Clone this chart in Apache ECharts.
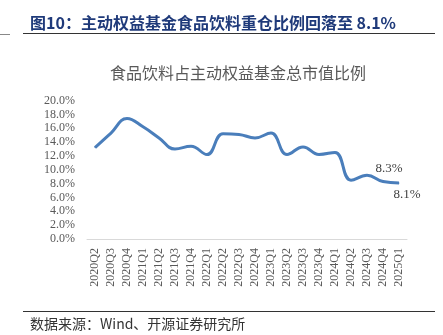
<!DOCTYPE html>
<html>
<head>
<meta charset="utf-8">
<script src="https://cdn.jsdelivr.net/npm/echarts@6/dist/echarts.min.js"></script>
<style>
  html, body { margin: 0; padding: 0; background: #fff; }
  #chart { width: 443px; height: 335px; }
</style>
</head>
<body>
<div id="chart"></div>
<script>
// Quarterly share of food & beverage in active equity funds' holdings (%)
const quarters = ['2020Q2','2020Q3','2020Q4','2021Q1','2021Q2','2021Q3','2021Q4',
  '2022Q1','2022Q2','2022Q3','2022Q4','2023Q1','2023Q2','2023Q3','2023Q4',
  '2024Q1','2024Q2','2024Q3','2024Q4','2025Q1'];
const shareValues = [13.2, 15.3, 17.4, 16.2, 14.6, 13.0, 13.4, 12.2, 15.2, 15.1,
  14.6, 15.3, 12.2, 13.3, 12.2, 12.5, 8.5, 9.2, 8.3, 8.1];
const yTicks = { min: 0, max: 20, step: 2 };

const serif = '"Liberation Serif", "Times New Roman", serif';
const cjk = '"Noto Sans CJK SC", sans-serif';

const lastIdx = shareValues.length - 1;
const seriesData = shareValues.map((v, i) => {
  if (i === lastIdx - 1) {
    return { value: v, label: { show: true, position: 'top', offset: [6, -1] } };
  }
  if (i === lastIdx) {
    return { value: v, label: { show: true, position: 'bottom', offset: [8, 0] } };
  }
  return v;
});

const chart = echarts.init(document.getElementById('chart'), null, { renderer: 'canvas' });
chart.setOption({
  backgroundColor: '#ffffff',
  animation: false,
  title: [
    {
      text: '图10：主动权益基金食品饮料重仓比例回落至 8.1%',
      left: 25, top: 10,
      textStyle: { fontFamily: cjk, fontSize: 16, fontWeight: 'bold', color: '#1f3a7a' }
    },
    {
      text: '食品饮料占主动权益基金总市值比例',
      left: 105, top: 60,
      textStyle: { fontFamily: cjk, fontSize: 16, fontWeight: 'normal', color: '#595959' }
    },
    {
      text: '数据来源：Wind、开源证券研究所',
      left: 25, top: 312,
      textStyle: { fontFamily: cjk, fontSize: 14, fontWeight: 'normal', color: '#333333' }
    }
  ],
  graphic: [
    { type: 'line', shape: { x1: 23, y1: 33.5, x2: 435, y2: 33.5 }, style: { stroke: '#333333', lineWidth: 1 } },
    { type: 'line', shape: { x1: 0, y1: 34.5, x2: 10, y2: 34.5 }, style: { stroke: '#888888', lineWidth: 1 } },
    { type: 'line', shape: { x1: 23, y1: 311.5, x2: 435, y2: 311.5 }, style: { stroke: '#333333', lineWidth: 1 } }
  ],
  grid: { left: 87, right: 36, top: 100.5, bottom: 96 },
  xAxis: {
    type: 'category',
    data: quarters,
    boundaryGap: true,
    axisLine: { show: true, lineStyle: { color: '#d9d9d9', width: 1 } },
    axisTick: { show: false },
    axisLabel: {
      interval: 0, rotate: 90, margin: 9,
      fontFamily: serif, fontSize: 12, color: '#595959'
    }
  },
  yAxis: {
    type: 'value',
    min: yTicks.min, max: yTicks.max, interval: yTicks.step,
    axisLine: { show: false },
    axisTick: { show: false },
    splitLine: { show: false },
    axisLabel: {
      margin: 12,
      fontFamily: serif, fontSize: 12, color: '#595959',
      formatter: v => v.toFixed(1) + '%'
    }
  },
  series: [{
    type: 'line',
    data: seriesData,
    smooth: 0.45,
    symbol: 'circle',
    symbolSize: 1,
    showSymbol: true,
    showAllSymbol: true,
    lineStyle: { color: '#4a7ebb', width: 3 },
    itemStyle: { color: '#4a7ebb' },
    label: {
      show: false,
      fontFamily: serif, fontSize: 13, color: '#404040',
      formatter: p => p.value.toFixed(1) + '%'
    }
  }]
});
</script>
</body>
</html>
